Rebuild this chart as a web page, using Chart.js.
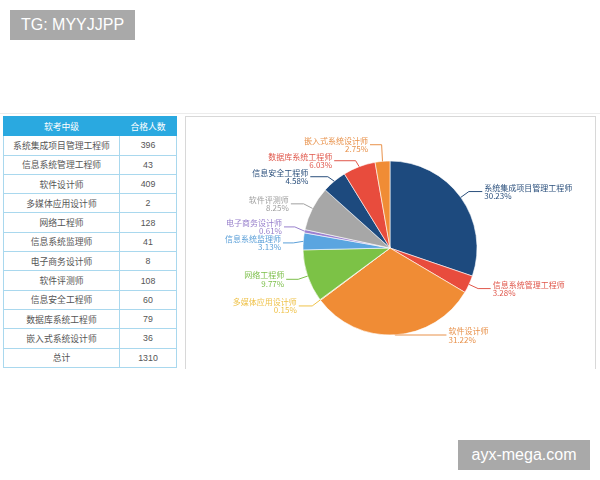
<!DOCTYPE html>
<html>
<head>
<meta charset="utf-8">
<script src="https://cdn.jsdelivr.net/npm/chart.js@4/dist/chart.umd.min.js"></script>
<style>
body{margin:0;width:600px;height:480px;background:#fff;position:relative;overflow:hidden;font-family:"Noto Sans CJK SC","Liberation Sans",sans-serif;}
.hline{position:absolute;left:0;top:113px;width:600px;height:1px;background:#ececec;}
.mark{position:absolute;background:#a9a9a9;color:#fff;font-family:"Liberation Sans",Arial,sans-serif;font-size:16px;line-height:30px;text-align:center;}
table{position:absolute;left:3px;top:116px;width:174px;border-collapse:collapse;background:#fff;}
th,td{border:1px solid #a9d8ee;height:18.3px;padding:0;text-align:center;font-size:8.8px;color:#555;font-weight:normal;}
th{background:#2aa9e0;color:#fff;border-color:#2aa9e0;}
td.n{font-family:"Liberation Sans",Arial,sans-serif;}
.panel{position:absolute;left:185px;top:116px;width:409px;height:252px;border:1px solid #d8d8d8;border-bottom:none;background:#fff;}
canvas{position:absolute;left:186px;top:117px;}
</style>
</head>
<body>
<div class="hline"></div>
<div class="mark" style="left:10px;top:10px;width:125px;height:30px;">TG: MYYJJPP</div>
<div class="mark" style="left:458px;top:440px;width:132px;height:30px;">ayx-mega.com</div>
<table id="tbl"></table>
<div class="panel"></div>
<canvas id="chart" width="409" height="250"></canvas>
<script>
// ================= DATA =================
const headers=["软考中级","合格人数"];
const categories=["系统集成项目管理工程师","信息系统管理工程师","软件设计师","多媒体应用设计师","网络工程师","信息系统监理师","电子商务设计师","软件评测师","信息安全工程师","数据库系统工程师","嵌入式系统设计师"];
const values=[396,43,409,2,128,41,8,108,60,79,36];
const totalLabel="总计";
const colors=["#1d4a7e","#e84c3d","#f08c35","#f5c242","#7cc246","#5aa5e0","#9b80d0","#a7a7a7","#1d4a7e","#e84c3d","#f08c35"];
const labelColors=["#2a4f7c","#e0574b","#e8914a","#efc24a","#7cbf4a","#5a9fd8","#9880cc","#a0a0a0","#2a4f7c","#e0574b","#e8914a"];

let total=values.reduce((a,b)=>a+b,0);

// percentages with largest remainder rounding (sum = 100.00)
function percents(vals){
let raw=vals.map(v=>v/total*10000);
let fl=raw.map(Math.floor);
let left=10000-fl.reduce((a,b)=>a+b,0);
let order=raw.map((r,i)=>i).sort((a,b)=>(raw[b]-fl[b])-(raw[a]-fl[a]));
for(let k=0;k<left;k++) fl[order[k]]++;
return fl.map(f=>(f/100).toFixed(2)+"%");
}
let pctText=percents(values);

// ================= TABLE =================
let tbl=document.getElementById("tbl");
let html=`<tr><th style="width:115px">${headers[0]}</th><th>${headers[1]}</th></tr>`;
categories.forEach((c,i)=>{
html+=`<tr><td>${c}</td><td class="n">${values[i]}</td></tr>`;
});
html+=`<tr><td>${totalLabel}</td><td class="n">${total}</td></tr>`;
tbl.innerHTML=html;

// ================= OUTSIDE LABELS =================
const outLabels={
id:"outLabels",
afterDatasetsDraw(chart){
let ctx=chart.ctx;
let area=chart.chartArea;
let arcs=chart.getDatasetMeta(0).data;
let items=arcs.map((a,i)=>{
let p=a.getProps(["x","y","startAngle","endAngle","outerRadius"],true);
let mid=(p.startAngle+p.endAngle)/2;
let r=p.outerRadius;
let cos=Math.cos(mid),sin=Math.sin(mid);
return {i,cx:p.x,cy:p.y,r,
x0:p.x+cos*r,y0:p.y+sin*r,
x1:p.x+cos*(r+10),
right:cos>=0,ly:Math.min(p.y+sin*(r+10),area.bottom)};
});
// push overlapping labels apart on each side
[true,false].forEach(side=>{
let s=items.filter(t=>t.right===side).sort((a,b)=>a.ly-b.ly);
for(let k=0;k<40;k++){
for(let j=1;j<s.length;j++){
let d=s[j].ly-s[j-1].ly;
if(d<16){
let m=(16-d)/2;
s[j].ly+=m;s[j-1].ly-=m;
}
}
}
});
ctx.save();
ctx.lineWidth=1;
ctx.font='8px "Noto Sans CJK SC", sans-serif';
ctx.textBaseline="middle";
items.forEach(t=>{
let dir=t.right?1:-1;
// keep the text box clear of the pie
let dy=Math.max(0,Math.min(Math.abs(t.ly-8-t.cy),Math.abs(t.ly+8-t.cy)));
if((t.ly-8-t.cy)*(t.ly+8-t.cy)<0) dy=0;
let clear=Math.sqrt(Math.max(0,t.r*t.r-dy*dy))+20;
let x2=t.right?Math.max(t.x1+10,t.cx+clear):Math.min(t.x1-10,t.cx-clear);
ctx.strokeStyle=labelColors[t.i];
ctx.beginPath();
ctx.moveTo(t.x0,t.y0);
ctx.lineTo(t.x1,t.ly);
ctx.lineTo(x2,t.ly);
ctx.stroke();
ctx.fillStyle=labelColors[t.i];
ctx.textAlign=t.right?"left":"right";
let tx=x2+dir*2;
ctx.fillText(categories[t.i],tx,t.ly-4);
ctx.fillText(pctText[t.i],tx,t.ly+4.5);
});
ctx.restore();
}
};

// ================= PIE =================
let ctx=document.getElementById("chart").getContext("2d");
new Chart(ctx,{
type:"pie",
data:{
labels:categories,
datasets:[{
data:values,
backgroundColor:colors,
borderColor:"#fff",
borderWidth:0.6,
hoverOffset:0
}]
},
options:{
responsive:false,
animation:false,
devicePixelRatio:1,
radius:87,
layout:{padding:{left:117,right:118,top:44,bottom:32}},
plugins:{legend:{display:false},tooltip:{enabled:false}}
},
plugins:[outLabels]
});
</script>
</body>
</html>
